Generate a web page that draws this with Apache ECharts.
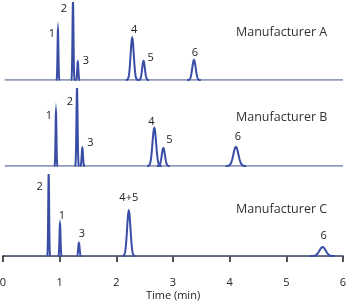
<!DOCTYPE html>
<html><head><meta charset="utf-8">
<script src="https://cdn.jsdelivr.net/npm/echarts@6/dist/echarts.min.js"></script>
<style>html,body{margin:0;padding:0;background:#fff}#c{width:350px;height:302px}</style>
</head><body><div id="c"></div>
<script>
// ---- data ----
var panelNames = ['Manufacturer A', 'Manufacturer B', 'Manufacturer C'];
var xTicks = [0, 1, 2, 3, 4, 5, 6];
var baselineRange = [0.03, 6.0];

var peakLabelsA = ['1', '2', '3', '4', '5', '6'];
var peakTimesA  = [0.97, 1.235, 1.32, 2.28, 2.48, 3.37];
var peakHeightsA = [50, 78, 18, 42, 19, 20];
var peakWidthsA = [0.008, 0.009, 0.010, 0.028, 0.024, 0.030];

var peakLabelsB = ['1', '2', '3', '4', '5', '6'];
var peakTimesB  = [0.935, 1.306, 1.40, 2.67, 2.83, 4.11];
var peakHeightsB = [54, 78, 18, 38, 18, 19];
var peakWidthsB = [0.008, 0.010, 0.011, 0.032, 0.028, 0.045];

var peakLabelsC = ['2', '1', '3', '4+5', '6'];
var peakTimesC  = [0.806, 1.006, 1.34, 2.22, 5.64];
var peakHeightsC = [82, 32, 13, 45, 9];
var peakWidthsC = [0.008, 0.009, 0.012, 0.030, 0.055];

// ---- layout (label offsets in px from the peak apex) ----
var labelOffsetsA = [[-6,4],[-9,7],[8,-1],[2,-8],[7,-3],[1,-7]];
var labelOffsetsB = [[-7,4],[-7,14],[8,-5],[-3,-6],[6,-8],[2,-10]];
var labelOffsetsC = [[-9,13],[2,-8],[3,-9],[0,-13],[1,-11]];

var FONT = '"Open Sans", "Noto Sans", sans-serif';
var PEAK_COLOR = '#3a4da6';
var BASE_COLOR = '#6e7ca6';

var panels = [
  {labels: peakLabelsA, t: peakTimesA, h: peakHeightsA, w: peakWidthsA, off: labelOffsetsA},
  {labels: peakLabelsB, t: peakTimesB, h: peakHeightsB, w: peakWidthsB, off: labelOffsetsB},
  {labels: peakLabelsC, t: peakTimesC, h: peakHeightsC, w: peakWidthsC, off: labelOffsetsC}
];
var gridTops = [0, 86, 176];
var nameYs = [34, 119, 211];

var grids = [], xAxes = [], yAxes = [], series = [], graphics = [];
panels.forEach(function (p, i) {
  grids.push({left: 3, right: 7, top: gridTops[i], height: 80, outerBoundsMode: 'none'});
  var last = i === 2;
  xAxes.push({
    type: 'value', gridIndex: i, min: 0, max: 6, interval: 1,
    show: last, offset: last ? 13 : 0,
    axisLine: {show: true, lineStyle: {color: '#1a1a1a', width: 1.5}},
    axisTick: {show: true, length: 6, lineStyle: {color: '#1a1a1a', width: 1.5}},
    axisLabel: {show: true, margin: 8, color: '#222', fontSize: 11, fontFamily: FONT,
      formatter: function (v) { return xTicks.indexOf(v) >= 0 ? String(v) : ''; }},
    splitLine: {show: false},
    name: last ? 'Time (min)' : '', nameLocation: 'middle', nameGap: 21,
    nameTextStyle: {color: '#222', fontSize: 11, fontFamily: FONT}
  });
  yAxes.push({type: 'value', gridIndex: i, min: 0, max: 80, show: false});
  series.push({
    type: 'line', xAxisIndex: i, yAxisIndex: i, symbol: 'none', silent: true,
    lineStyle: {color: BASE_COLOR, width: 1.5},
    data: [[baselineRange[0], 0], [baselineRange[1], 0]], z: 1
  });
  var data = p.t.map(function (t, k) { return [t, p.h[k], p.w[k], k]; });
  series.push({
    type: 'custom', xAxisIndex: i, yAxisIndex: i, clip: false, silent: true, z: 2,
    data: data,
    renderItem: function (params, api) {
      var t = api.value(0), h = api.value(1), s = api.value(2), k = api.value(3);
      var pts = [];
      var n = 48;
      for (var j = 0; j <= n; j++) {
        var x = t - 4 * s + (8 * s) * j / n;
        var y = h * Math.exp(-0.5 * Math.pow((x - t) / s, 2));
        pts.push(api.coord([x, y]));
      }
      var top = api.coord([t, h]);
      var off = p.off[k];
      return {
        type: 'group',
        children: [
          {type: 'polyline', shape: {points: pts},
           style: {stroke: PEAK_COLOR, lineWidth: 2, fill: null}},
          {type: 'text', x: top[0] + off[0], y: top[1] + off[1],
           style: {text: p.labels[k], fill: '#222', fontSize: 11, fontFamily: FONT,
                   align: 'center', verticalAlign: 'middle'}}
        ]
      };
    }
  });
  graphics.push({type: 'text', left: 236, top: nameYs[i] - 8,
    style: {text: panelNames[i], fill: '#333', fontSize: 12.5, fontFamily: FONT}});
});

var chart = echarts.init(document.getElementById('c'), null, {renderer: 'canvas'});
chart.setOption({
  animation: false,
  backgroundColor: '#fff',
  grid: grids, xAxis: xAxes, yAxis: yAxes, series: series, graphic: graphics
});
</script></body></html>
